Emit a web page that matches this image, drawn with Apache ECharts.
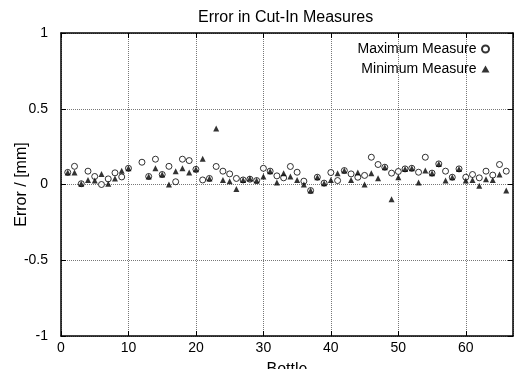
<!DOCTYPE html>
<html>
<head>
<meta charset="utf-8">
<script src="https://cdn.jsdelivr.net/npm/echarts@6/dist/echarts.min.js"></script>
<style>
  html, body { margin: 0; padding: 0; background: #fff; }
  #chart { width: 522px; height: 369px; }
</style>
</head>
<body>
<div id="chart"></div>
<script>
// bottle numbers 1..66, values in mm (null = no point)
const bottles = Array.from({ length: 66 }, (_, i) => i + 1)
const maxMeasure = [
  0.08, 0.12, 0.005, 0.088, 0.053, 0.0, 0.037, 0.077, 0.05, 0.107,
  null, 0.147, 0.053, 0.167, 0.066, 0.12, 0.018, 0.167, 0.158, 0.1,
  0.03, 0.04, 0.119, 0.088, 0.07, 0.04, 0.03, 0.035, 0.026, 0.107,
  0.088, 0.057, 0.044, 0.119, 0.081, 0.022, -0.04, 0.048, 0.009, 0.079,
  0.026, 0.092, 0.07, 0.048, 0.06, 0.18, 0.132, 0.114, 0.075, 0.086,
  0.103, 0.107, 0.081, 0.18, 0.075, 0.136, 0.088, 0.048, 0.103, 0.048,
  0.066, 0.044, 0.088, 0.062, 0.132, 0.088
]
const minMeasure = [
  0.08, 0.08, 0.005, 0.03, 0.026, 0.07, 0.005, 0.04, 0.09, 0.107,
  null, null, 0.053, 0.107, 0.066, 0.0, 0.088, 0.107, 0.08, 0.1,
  0.17, 0.04, 0.37, 0.03, 0.022, -0.029, 0.03, 0.04, 0.026, 0.053,
  0.088, 0.013, 0.075, 0.053, 0.03, 0.0, -0.04, 0.048, 0.009, 0.03,
  0.075, 0.092, 0.03, 0.08, 0.0, 0.075, 0.042, 0.114, -0.097, 0.048,
  0.103, 0.107, 0.013, 0.092, 0.075, 0.136, 0.026, 0.048, 0.103, 0.026,
  0.03, -0.009, 0.035, 0.03, 0.066, -0.04
]

const font = 'Liberation Sans, Arial, sans-serif'
const pairs = vals => bottles.map((b, i) => [b, vals[i]]).filter(p => p[1] !== null)

const chart = echarts.init(document.getElementById('chart'))

const gridLine = { show: true, lineStyle: { color: '#777', type: 'dotted', width: 1 } }
const axisLine = { show: true, onZero: false, lineStyle: { color: '#000', width: 1.5 } }
const tick = { show: true, inside: true, length: 5, lineStyle: { color: '#000' } }

chart.setOption({
  animation: false,
  title: {
    text: 'Error in Cut-In Measures',
    left: 193,
    top: 5,
    textStyle: { fontFamily: font, fontSize: 16, fontWeight: 'normal', color: '#000' }
  },
  legend: {
    orient: 'vertical',
    right: 27,
    top: 37,
    align: 'right',
    itemGap: 6,
    itemWidth: 8,
    itemHeight: 7,
    textStyle: { fontFamily: font, fontSize: 14, color: '#000' },
    data: ['Maximum Measure', 'Minimum Measure']
  },
  grid: { left: 61, right: 9, top: 33, bottom: 33, outerBoundsMode: 'none', containLabel: false },
  xAxis: [
    {
      type: 'value',
      min: 0,
      max: 67,
      interval: 10,
      name: 'Bottle',
      nameLocation: 'middle',
      nameGap: 26,
      nameMoveOverlap: false,
      nameTextStyle: { fontFamily: font, fontSize: 16, color: '#000' },
      axisLine: axisLine,
      axisTick: tick,
      axisLabel: {
        fontFamily: font, fontSize: 14, color: '#000', margin: 5,
        showMaxLabel: false
      },
      splitLine: gridLine
    },
    {
      type: 'value',
      position: 'top',
      min: 0,
      max: 67,
      interval: 10,
      axisLine: axisLine,
      axisTick: tick,
      axisLabel: { show: false },
      splitLine: { show: false }
    }
  ],
  yAxis: [
    {
      type: 'value',
      min: -1,
      max: 1,
      interval: 0.5,
      name: 'Error / [mm]',
      nameLocation: 'middle',
      nameGap: 31,
      nameMoveOverlap: false,
      nameTextStyle: { fontFamily: font, fontSize: 16, color: '#000' },
      axisLine: axisLine,
      axisTick: tick,
      axisLabel: { fontFamily: font, fontSize: 14, color: '#000', margin: 13 },
      splitLine: gridLine
    },
    {
      type: 'value',
      position: 'right',
      min: -1,
      max: 1,
      interval: 0.5,
      axisLine: axisLine,
      axisTick: tick,
      axisLabel: { show: false },
      splitLine: { show: false }
    }
  ],
  series: [
    {
      name: 'Maximum Measure',
      type: 'scatter',
      symbol: 'circle',
      symbolSize: 6,
      itemStyle: { color: '#fff', borderColor: '#000', borderWidth: 1 },
      emphasis: { disabled: true },
      data: pairs(maxMeasure)
    },
    {
      name: 'Minimum Measure',
      type: 'scatter',
      symbol: 'triangle',
      symbolSize: 6,
      itemStyle: { color: '#000' },
      emphasis: { disabled: true },
      data: pairs(minMeasure)
    }
  ]
})
</script>
</body>
</html>
